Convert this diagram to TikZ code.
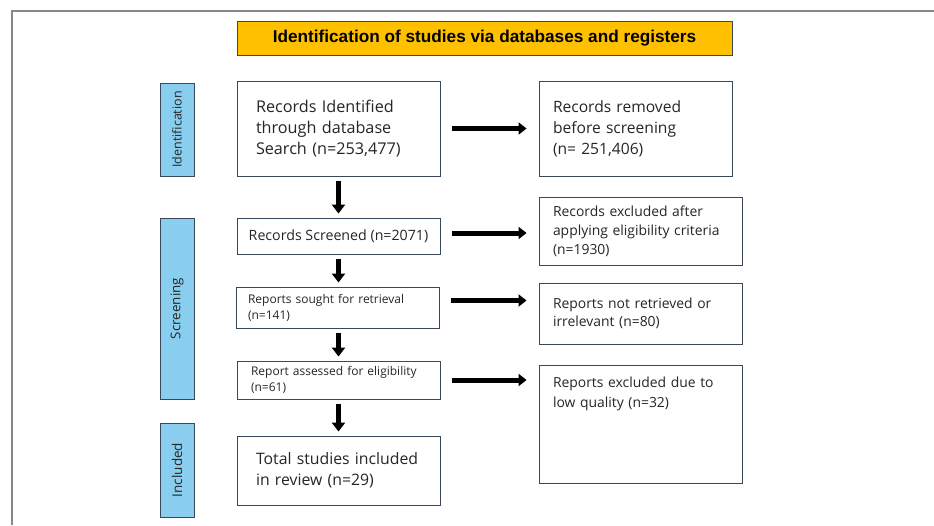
\documentclass[tikz,border=0pt]{standalone}
\usepackage{fontspec}
\setmainfont{Open Sans}
\newfontfamily\titlefont{Liberation Sans}
\usetikzlibrary{arrows.meta,positioning}
\definecolor{cyellow}{RGB}{255,192,0}
\definecolor{cblue}{RGB}{137,206,238}
\definecolor{cedge}{RGB}{58,72,92}
\definecolor{cframe}{RGB}{135,135,135}
\definecolor{ctext}{RGB}{38,38,38}
\tikzset{
  box/.style={rectangle, draw=cedge, line width=0.9pt, fill=white,
    text=ctext, align=left, inner ysep=0pt},
  phase/.style={rectangle, draw=cedge, line width=0.9pt, fill=cblue,
    rotate=90, text=ctext, inner sep=0pt, minimum height=34pt},
  titlebox/.style={rectangle, draw=cedge, line width=0.9pt, fill=cyellow,
    minimum width=495pt, minimum height=34pt,
    font=\titlefont\bfseries\fontsize{17.2}{19}\selectfont},
  arr/.style={-{Triangle[length=8pt,width=12pt]}, line width=5pt,
    shorten <=12pt, shorten >=12pt},
  varr/.style={-{Triangle[length=9pt,width=13pt]}, line width=5pt,
    shorten <=5pt, shorten >=4pt}
}

\begin{document}
\begin{tikzpicture}[x=1pt,y=-1pt]
  \useasboundingbox (0,0) rectangle (934,525);
  % page frame
  \draw[cframe, line width=1.5pt] (12,525) -- (12,11) -- (934,11);

  \node[titlebox] (title) at (484.5,38)
      {Identification of studies via databases and registers};

  % phase bars
  \node[phase, minimum width=93pt, font=\fontsize{12.5}{14}\selectfont]
      (idph) at (177,129.5) {Identification};
  \node[phase, minimum width=181pt, font=\fontsize{13.4}{15}\selectfont]
      (scph) at (177,308.5) {Screening};
  \node[phase, minimum width=94pt, font=\fontsize{13.5}{15}\selectfont]
      (inph) at (177,470) {Included};

  % left column
  \node[box, minimum width=203pt, minimum height=95pt, text width=165pt,
      inner xsep=19pt, font=\fontsize{16.2}{21}\selectfont]
      (b1) at (338.5,128.5)
      {Records Identified\\through database\\Search (n=253,477)};
  \node[box, minimum width=203pt, minimum height=36pt, inner xsep=0pt,
      font=\fontsize{14.2}{16}\selectfont]
      (b2) at (338.5,236) {Records Screened (n=2071)};
  \node[box, minimum width=203pt, minimum height=41pt, text width=179pt,
      inner xsep=12pt, font=\fontsize{12}{16}\selectfont]
      (b3) at (337.5,307.5) {Reports sought for retrieval\\(n=141)};
  \node[box, minimum width=203pt, minimum height=38pt, text width=175pt,
      inner xsep=14pt, font=\fontsize{12}{16}\selectfont]
      (b4) at (338.5,380) {Report assessed for eligibility\\(n=61)};
  \node[box, minimum width=203pt, minimum height=69pt, text width=165pt,
      inner xsep=19pt, font=\fontsize{15.8}{21}\selectfont]
      (b5) at (338.5,470.5) {Total studies included\\in review (n=29)};

  % right column
  \node[box, minimum width=193pt, minimum height=95pt, text width=165pt,
      inner xsep=14pt, font=\fontsize{15.6}{21}\selectfont]
      (r1) at (635.5,128.5)
      {Records removed\\before screening\\(n= 251,406)};
  \node[box, minimum width=203pt, minimum height=68pt, text width=175pt,
      inner xsep=14pt, font=\fontsize{13.9}{19}\selectfont]
      (r2) at (640.5,231)
      {Records excluded after\\applying eligibility criteria\\(n=1930)};
  \node[box, minimum width=203pt, minimum height=61pt, text width=175pt,
      inner xsep=14pt, font=\fontsize{13.9}{18}\selectfont]
      (r3) at (640.5,313.5) {Reports not retrieved or\\irrelevant (n=80)};
  \node[box, anchor=north, minimum width=203pt, text width=175pt,
      inner xsep=14pt, inner ysep=11pt, text depth=85pt,
      font=\fontsize{13.9}{20}\selectfont]
      (r4) at (640.5,365) {Reports excluded due to\\low quality (n=32)};

  % arrows
  \draw[arr] (b1) -- (r1);
  \draw[arr] ([yshift=3pt]b2.east) -- ([yshift=3pt]b2.east -| r2.west);
  \draw[arr] ([yshift=7pt]b3.east) -- ([yshift=7pt]b3.east -| r3.west);
  \draw[arr] (b4.east) -- (b4.east -| r4.west);
  \draw[varr] (b1) -- (b2);
  \draw[varr] (b2) -- (b2 |- b3.north);
  \draw[varr] (b3.south -| b2) -- (b2 |- b4.north);
  \draw[varr] (b4) -- (b5);
\end{tikzpicture}
\end{document}
